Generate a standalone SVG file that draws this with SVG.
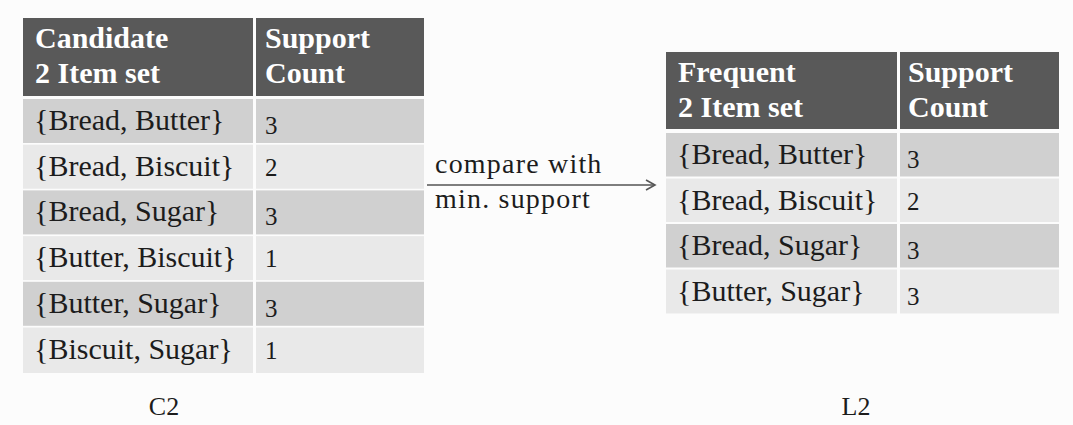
<svg xmlns="http://www.w3.org/2000/svg" width="1073" height="425" viewBox="0 0 1073 425">
  <defs>
    <style>
      .hdr { fill: #595959; }
      .dk { fill: #d0d0d0; }
      .lt { fill: #e9e9e9; }
      .ht { font-family: "Liberation Serif", "Times New Roman", serif; font-weight: bold; font-size: 30px; fill: #ffffff; }
      .bt { font-family: "Liberation Serif", "Times New Roman", serif; font-size: 30px; fill: #1c1c1c; }
      .nt { font-family: "Liberation Serif", "Times New Roman", serif; font-size: 25px; fill: #1c1c1c; }
      .lbl { font-family: "Liberation Serif", "Times New Roman", serif; font-size: 28px; fill: #1c1c1c; letter-spacing: 1.2px; }
      .cap { font-family: "Liberation Serif", "Times New Roman", serif; font-size: 26px; fill: #1c1c1c; }
      .conn { stroke: #555555; stroke-width: 1.6; fill: none; }
    </style>
    <marker id="arrow" markerWidth="12" markerHeight="12" refX="10" refY="6" orient="auto" markerUnits="userSpaceOnUse">
      <path d="M1,1 L10,6 L1,11" fill="none" stroke="#555555" stroke-width="1.6"/>
    </marker>
  </defs>
  <rect x="0" y="0" width="1073" height="425" fill="#fcfcfc"/>

  <g id="table-c2">
    <rect class="hdr" x="23" y="18" width="230" height="78"/>
    <rect class="hdr" x="256" y="18" width="168" height="78"/>
    <text class="ht" x="35" y="48">Candidate</text>
    <text class="ht" x="35" y="83">2 Item set</text>
    <text class="ht" x="265" y="48">Support</text>
    <text class="ht" x="265" y="83">Count</text>

    <rect class="dk" x="23" y="99" width="230" height="44"/>
    <rect class="dk" x="256" y="99" width="168" height="44"/>
    <text class="bt" x="34" y="130">{Bread, Butter}</text>
    <text class="nt" x="265" y="134">3</text>

    <rect class="lt" x="23" y="144.7" width="230" height="44"/>
    <rect class="lt" x="256" y="144.7" width="168" height="44"/>
    <text class="bt" x="34" y="175.7">{Bread, Biscuit}</text>
    <text class="nt" x="265" y="175.7">2</text>

    <rect class="dk" x="23" y="190.4" width="230" height="44"/>
    <rect class="dk" x="256" y="190.4" width="168" height="44"/>
    <text class="bt" x="34" y="221.4">{Bread, Sugar}</text>
    <text class="nt" x="265" y="225.4">3</text>

    <rect class="lt" x="23" y="236.1" width="230" height="44"/>
    <rect class="lt" x="256" y="236.1" width="168" height="44"/>
    <text class="bt" x="34" y="267.1">{Butter, Biscuit}</text>
    <text class="nt" x="265" y="267.1">1</text>

    <rect class="dk" x="23" y="281.8" width="230" height="44"/>
    <rect class="dk" x="256" y="281.8" width="168" height="44"/>
    <text class="bt" x="34" y="312.8">{Butter, Sugar}</text>
    <text class="nt" x="265" y="316.8">3</text>

    <rect class="lt" x="23" y="327.5" width="230" height="45.5"/>
    <rect class="lt" x="256" y="327.5" width="168" height="45.5"/>
    <text class="bt" x="34" y="358.5">{Biscuit, Sugar}</text>
    <text class="nt" x="265" y="358.5">1</text>

    <text class="cap" x="164" y="415" text-anchor="middle">C2</text>
  </g>

  <g id="table-l2">
    <rect class="hdr" x="666" y="52" width="231" height="77"/>
    <rect class="hdr" x="900" y="52" width="159" height="77"/>
    <text class="ht" x="678" y="82">Frequent</text>
    <text class="ht" x="678" y="117">2 Item set</text>
    <text class="ht" x="908" y="82">Support</text>
    <text class="ht" x="908" y="117">Count</text>

    <rect class="dk" x="666" y="133" width="231" height="43.5"/>
    <rect class="dk" x="900" y="133" width="159" height="43.5"/>
    <text class="bt" x="677" y="164">{Bread, Butter}</text>
    <text class="nt" x="907" y="168">3</text>

    <rect class="lt" x="666" y="178.5" width="231" height="43.5"/>
    <rect class="lt" x="900" y="178.5" width="159" height="43.5"/>
    <text class="bt" x="677" y="209.5">{Bread, Biscuit}</text>
    <text class="nt" x="907" y="209.5">2</text>

    <rect class="dk" x="666" y="224" width="231" height="43.5"/>
    <rect class="dk" x="900" y="224" width="159" height="43.5"/>
    <text class="bt" x="677" y="255">{Bread, Sugar}</text>
    <text class="nt" x="907" y="259">3</text>

    <rect class="lt" x="666" y="269.5" width="231" height="44"/>
    <rect class="lt" x="900" y="269.5" width="159" height="44"/>
    <text class="bt" x="677" y="300.5">{Butter, Sugar}</text>
    <text class="nt" x="907" y="304.5">3</text>

    <text class="cap" x="856" y="415" text-anchor="middle">L2</text>
  </g>

  <g id="connectors">
    <line class="conn" x1="427" y1="185" x2="655" y2="185" marker-end="url(#arrow)"/>
    <text class="lbl" x="435" y="173">compare with</text>
    <text class="lbl" x="435" y="208">min. support</text>
  </g>
</svg>
